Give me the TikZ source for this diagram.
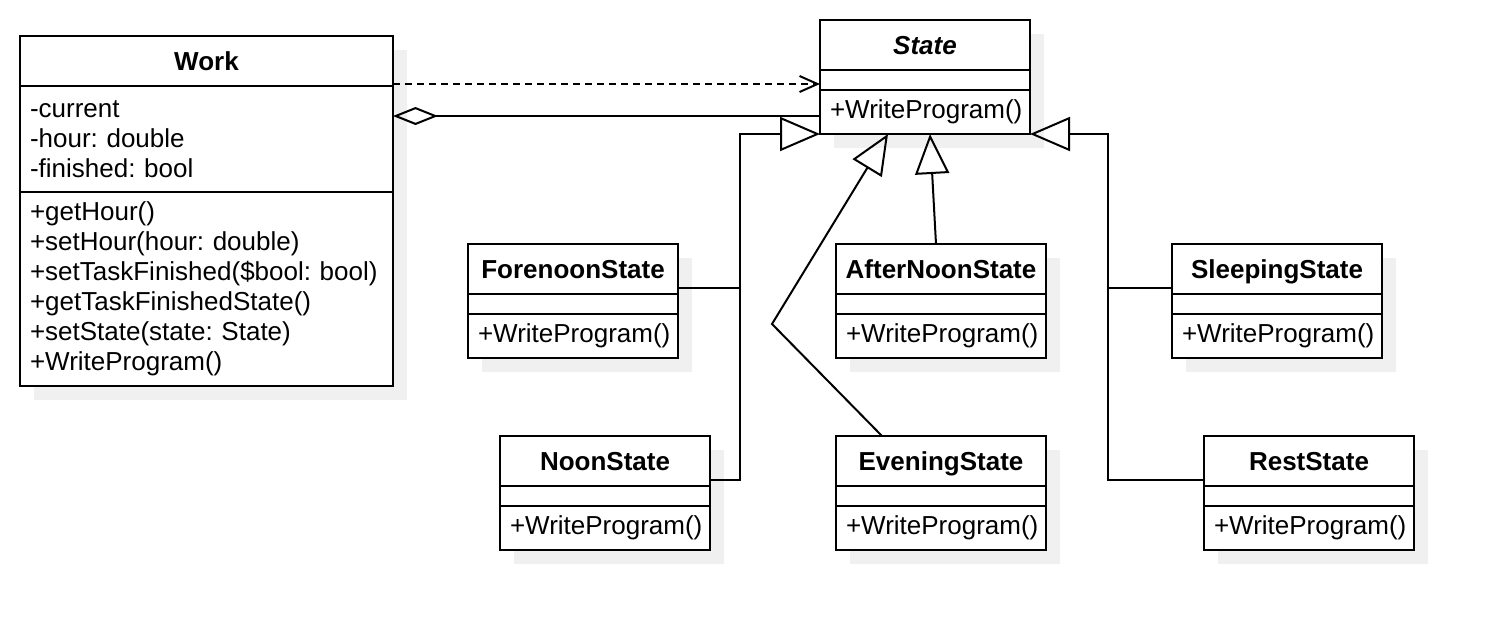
\documentclass[tikz,border=0pt]{standalone}
\usepackage{fontspec}
\setmainfont{Liberation Sans}
\frenchspacing
\usetikzlibrary{arrows.meta}
\definecolor{shadowc}{HTML}{F0F0F0}
\tikzset{
 umlhdr/.style={draw, line width=2pt, fill=white, inner sep=0pt, outer sep=0pt, minimum height=50pt, text height=20pt, text depth=2pt, anchor=north west, font=\fontsize{26}{30}\selectfont\bfseries},
 umlcmp/.style={draw, line width=2pt, fill=white, inner xsep=10pt, inner ysep=0pt, outer sep=0pt, anchor=north west, align=left, font=\fontsize{26}{30}\selectfont},
 conn/.style={line width=2pt},
 inh/.style={conn, -{Triangle[open, length=40pt, width=34pt]}},
 dep/.style={conn, dash pattern=on 7pt off 5pt, -{Straight Barb[length=18pt, width=16pt]}},
 agg/.style={conn, -{Diamond[open, length=45pt, width=18pt]}},
}
\newcommand\umlclass[9]{%
 \pgfmathsetmacro\umltw{#4-20}%
 \fill[shadowc] (#2+14,#3+14) rectangle ++(#4,50+#7+#9);
 \node[umlhdr, minimum width=#4pt] (#1) at (#2,#3) {#5};
 \node[umlcmp, minimum width=#4pt, text width=\umltw pt, minimum height=#7pt] (#1-a) at (#1.south west) {#6};
 \node[umlcmp, minimum width=#4pt, text width=\umltw pt, minimum height=#9pt] (#1-m) at (#1-a.south west) {#8};
}
\begin{document}
\begin{tikzpicture}[x=1pt,y=-1pt]
\useasboundingbox (0,0) rectangle (1494,630);
\umlclass{Work}{20}{36}{373}{Work}{-current\\-hour: double\\-finished: bool}{106}{+getHour()\\+setHour(hour: double)\\+setTaskFinished(\$bool: bool)\\+getTaskFinishedState()\\+setState(state: State)\\+WriteProgram()}{194}
\umlclass{State}{820}{20}{210}{\textit{State}}{}{20}{+WriteProgram()}{44}
\umlclass{Fore}{468}{244}{210}{ForenoonState}{}{20}{+WriteProgram()}{44}
\umlclass{After}{836}{244}{210}{AfterNoonState}{}{20}{+WriteProgram()}{44}
\umlclass{Sleep}{1172}{244}{210}{SleepingState}{}{20}{+WriteProgram()}{44}
\umlclass{Noon}{500}{436}{210}{NoonState}{}{20}{+WriteProgram()}{44}
\umlclass{Even}{836}{436}{210}{EveningState}{}{20}{+WriteProgram()}{44}
\umlclass{Rest}{1204}{436}{210}{RestState}{}{20}{+WriteProgram()}{44}
% connectors
\coordinate (depS) at ([yshift=2pt]Work.south east);
\draw[dep] (depS) -- (depS -| State.west);
\coordinate (aggS) at ([yshift=-4pt]State-m.west);
\draw[agg] (aggS) -- (aggS -| Work-a.east);
\coordinate (jL) at ([xshift=62pt,yshift=6pt]Fore.south east);
\coordinate (jR) at ([xshift=-64pt,yshift=6pt]Sleep.south west);
\draw[inh] ([yshift=6pt]Fore.south east) -- (jL) |- (State-m.south west);
\draw[conn] ([yshift=6pt]Noon.south east) -| (jL);
\draw[inh] ([yshift=6pt]Sleep.south west) -- (jR) |- (State-m.south east);
\draw[conn] ([yshift=6pt]Rest.south west) -| (jR);
\coordinate (eb) at (772,324);
\draw[inh] ([xshift=46pt]Even.north west) -- (eb) -- ([xshift=68pt]State-m.south west);
\draw[inh] ([xshift=100pt]After.north west) -- ([xshift=110pt]State-m.south west);
\end{tikzpicture}
\end{document}
